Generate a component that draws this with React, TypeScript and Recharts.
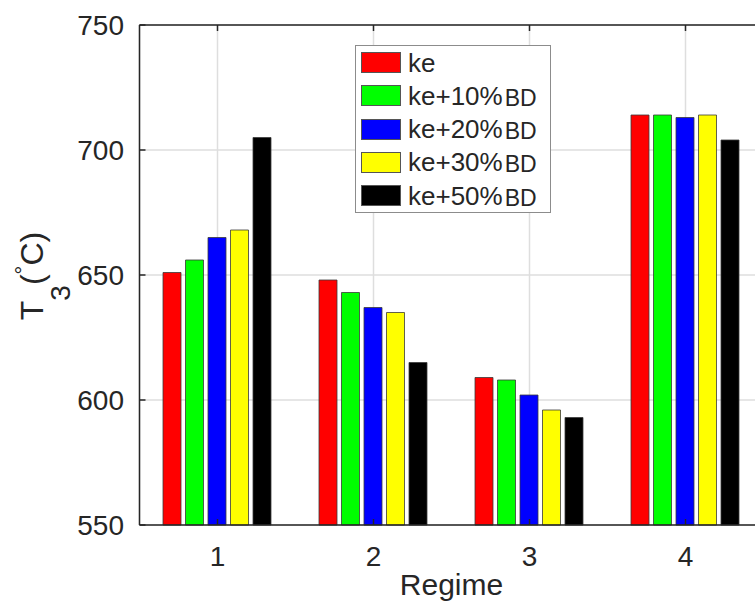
import React from "react";
import {
  BarChart,
  Bar,
  XAxis,
  YAxis,
  CartesianGrid,
  ReferenceLine,
} from "recharts";

// values (T3 in °C per regime)
const regimes = ["1", "2", "3", "4"];
const ke = [651, 648, 609, 714];
const ke10 = [656, 643, 608, 714];
const ke20 = [665, 637, 602, 713];
const ke30 = [668, 635, 596, 714];
const ke50 = [705, 615, 593, 704];
const yTicks = [550, 600, 650, 700, 750];

const series = [
  { key: "ke", label: "ke", sub: "", color: "#ff0000", values: ke },
  { key: "ke10", label: "ke+10%", sub: "BD", color: "#00ff00", values: ke10 },
  { key: "ke20", label: "ke+20%", sub: "BD", color: "#0000ff", values: ke20 },
  { key: "ke30", label: "ke+30%", sub: "BD", color: "#ffff00", values: ke30 },
  { key: "ke50", label: "ke+50%", sub: "BD", color: "#000000", values: ke50 },
];

const data = regimes.map((r, i) => {
  const row: Record<string, string | number> = { regime: r };
  series.forEach((s) => {
    row[s.key] = s.values[i];
  });
  return row;
});

const FONT = '"Liberation Sans", Arial, Helvetica, sans-serif';
const INK = "#262626";
const GRID = "#dedede";

const CHART_W = 800;
const CHART_H = 604;
const PLOT_LEFT = 139.5;
const PLOT_TOP = 25;
const PLOT_BOTTOM = 525;
const PLOT_RIGHT = 763.5;
const X_AXIS_H = 30;

function XTick({ x, payload }: { x?: number; payload?: { value: string } }) {
  if (x == null || !payload) return null;
  return (
    <g>
      <line x1={x} x2={x} y1={PLOT_BOTTOM} y2={PLOT_BOTTOM - 6} stroke={INK} strokeWidth={1.5} />
      <line x1={x} x2={x} y1={PLOT_TOP} y2={PLOT_TOP + 6} stroke={INK} strokeWidth={1.5} />
      <text x={x} y={566} textAnchor="middle" fontSize={28} fill={INK} fontFamily={FONT}>
        {payload.value}
      </text>
    </g>
  );
}

function YTick({ y, payload }: { y?: number; payload?: { value: number } }) {
  if (y == null || !payload) return null;
  return (
    <g>
      <line x1={PLOT_LEFT} x2={PLOT_LEFT + 6} y1={y} y2={y} stroke={INK} strokeWidth={1.5} />
      <text x={124} y={y} dy="0.36em" textAnchor="end" fontSize={28} fill={INK} fontFamily={FONT}>
        {payload.value}
      </text>
    </g>
  );
}

function YLabel() {
  const cx = 43;
  const cy = 276;
  return (
    <text
      x={cx}
      y={cy}
      transform={`rotate(-90, ${cx}, ${cy})`}
      textAnchor="middle"
      fill={INK}
      fontFamily={FONT}
      fontSize={32}
    >
      <tspan>T</tspan>
      <tspan fontSize={28} dy={27}>3</tspan>
      <tspan dy={-27}>(</tspan>
      <tspan fontSize={22} dy={-12}>°</tspan>
      <tspan dy={12}>C)</tspan>
    </text>
  );
}

function XLabel() {
  return (
    <text
      x={(PLOT_LEFT + PLOT_RIGHT) / 2}
      y={595}
      textAnchor="middle"
      fill={INK}
      fontFamily={FONT}
      fontSize={30}
    >
      Regime
    </text>
  );
}

function LegendBox() {
  return (
    <div
      style={{
        position: "absolute",
        left: 355,
        top: 45,
        width: 196,
        height: 168,
        boxSizing: "border-box",
        border: "1px solid #8c8c8c",
        background: "#ffffff",
        fontFamily: FONT,
        color: INK,
      }}
    >
      {series.map((s, i) => (
        <div
          key={s.key}
          style={{
            position: "absolute",
            left: 5,
            top: 6 + i * 33.3,
            height: 21,
            display: "flex",
            alignItems: "center",
            whiteSpace: "nowrap",
          }}
        >
          <span
            style={{
              width: 40,
              height: 21,
              boxSizing: "border-box",
              background: s.color,
              border: "1px solid #555555",
              display: "inline-block",
            }}
          />
          <span style={{ marginLeft: 7, fontSize: 26, lineHeight: 1 }}>
            {s.label}
            {s.sub && (
              <span style={{ fontSize: 23, position: "relative", top: 1, marginLeft: 2 }}>
                {s.sub}
              </span>
            )}
          </span>
        </div>
      ))}
    </div>
  );
}

export default function App() {
  return (
    <div
      style={{
        position: "absolute",
        left: 0,
        top: 0,
        width: 755,
        height: 604,
        overflow: "hidden",
        background: "#ffffff",
      }}
    >
      <BarChart
        width={CHART_W}
        height={CHART_H}
        data={data}
        margin={{
          top: PLOT_TOP,
          right: CHART_W - PLOT_RIGHT,
          bottom: CHART_H - PLOT_BOTTOM - X_AXIS_H,
          left: 0,
        }}
        barCategoryGap={23.5}
        barGap={4.5}
      >
        <CartesianGrid stroke={GRID} strokeWidth={1.5} />
        <XAxis
          dataKey="regime"
          height={X_AXIS_H}
          interval={0}
          tickLine={false}
          axisLine={{ stroke: INK, strokeWidth: 1.5 }}
          tick={<XTick />}
          label={<XLabel />}
        />
        <YAxis
          width={PLOT_LEFT}
          domain={[550, 750]}
          ticks={yTicks}
          tickLine={false}
          axisLine={{ stroke: INK, strokeWidth: 1.5 }}
          tick={<YTick />}
          label={<YLabel />}
        />
        {series.map((s) => (
          <Bar
            key={s.key}
            dataKey={s.key}
            name={s.label + s.sub}
            fill={s.color}
            stroke="#3a3a3a"
            strokeWidth={0.8}
            isAnimationActive={false}
          />
        ))}
        <ReferenceLine y={750} stroke={INK} strokeWidth={1.5} />
      </BarChart>
      <LegendBox />
    </div>
  );
}
